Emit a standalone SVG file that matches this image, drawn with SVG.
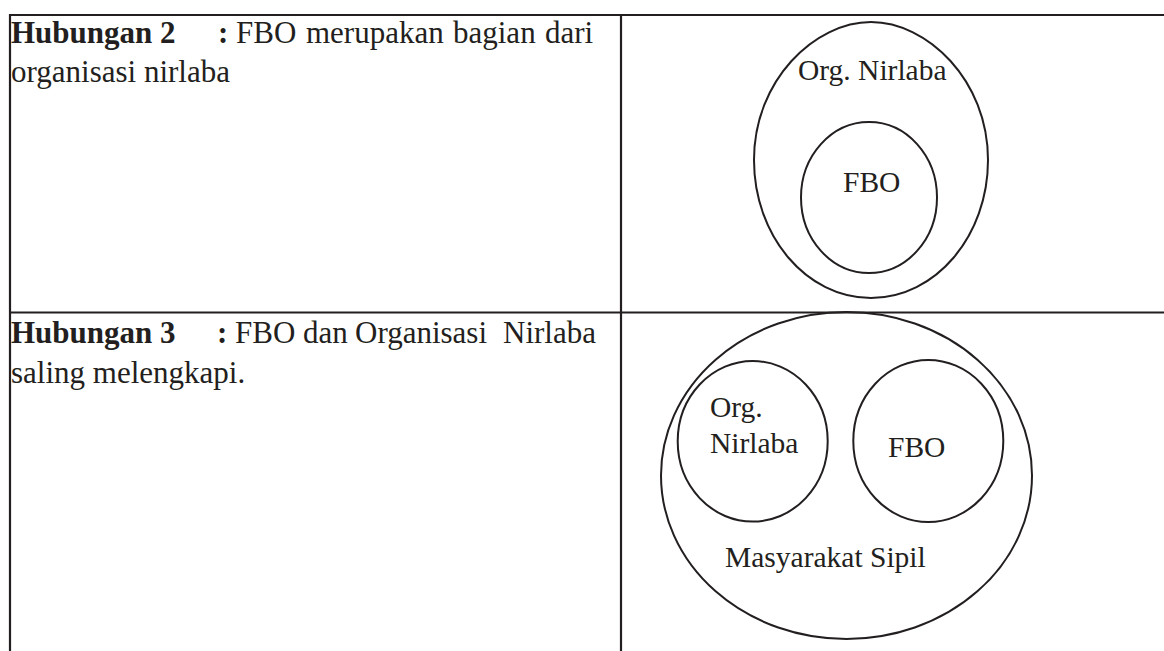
<svg xmlns="http://www.w3.org/2000/svg" width="1164" height="651" viewBox="0 0 1164 651">
  <style>
    .grid { stroke: #231f20; stroke-width: 2.2; fill: none; }
    .shape { stroke: #231f20; stroke-width: 2; fill: none; }
    .txt { font-family: "Liberation Serif", "Times New Roman", serif; font-size: 31px; fill: #231f20; }
    .b { font-weight: bold; }
    .lbl { font-family: "Liberation Serif", "Times New Roman", serif; font-size: 29.5px; fill: #231f20; }
  </style>
  <rect width="1164" height="651" fill="#ffffff"/>
  <g id="table">
    <line class="grid" x1="9" y1="15" x2="1164" y2="15"/>
    <line class="grid" x1="9" y1="312.5" x2="1164" y2="312.5"/>
    <line class="grid" x1="10" y1="14" x2="10" y2="651"/>
    <line class="grid" x1="621" y1="14" x2="621" y2="651"/>
  </g>
  <g id="row1-text">
    <text class="txt" y="43"><tspan class="b" x="11">Hubungan 2</tspan><tspan class="b" x="218">:</tspan><tspan x="236">FBO</tspan><tspan x="306">merupakan</tspan><tspan x="453">bagian</tspan><tspan x="545">dari</tspan></text>
    <text class="txt" x="11" y="82">organisasi nirlaba</text>
  </g>
  <g id="row1-nirlaba">
    <path class="shape" d="M754,160 C754,80 815,22 871,22 C927,22 988,80 988,160 C988,236 935.6,298 871,298 C806.4,298 754,236 754,160 Z"/>
    <text class="lbl" x="798" y="80">Org. Nirlaba</text>
  </g>
  <g id="row1-fbo">
    <ellipse class="shape" cx="869" cy="197.5" rx="68" ry="75.5"/>
    <text class="lbl" x="843" y="192">FBO</text>
  </g>
  <g id="row2-text">
    <text class="txt" y="343"><tspan class="b" x="11">Hubungan 3</tspan><tspan class="b" x="217">:</tspan><tspan x="235">FBO</tspan><tspan x="303">dan</tspan><tspan x="355">Organisasi</tspan><tspan x="503">Nirlaba</tspan></text>
    <text class="txt" x="11" y="383">saling melengkapi.</text>
  </g>
  <g id="row2-masyarakat">
    <ellipse class="shape" cx="846.5" cy="475.5" rx="185.5" ry="163.5"/>
    <text class="lbl" x="725" y="567">Masyarakat Sipil</text>
  </g>
  <g id="row2-nirlaba">
    <ellipse class="shape" cx="752.7" cy="441.3" rx="75" ry="80.3"/>
    <text class="lbl" x="710" y="417">Org.</text>
    <text class="lbl" x="710" y="453">Nirlaba</text>
  </g>
  <g id="row2-fbo">
    <ellipse class="shape" cx="928.3" cy="441" rx="75" ry="81"/>
    <text class="lbl" x="888" y="457">FBO</text>
  </g>
</svg>
